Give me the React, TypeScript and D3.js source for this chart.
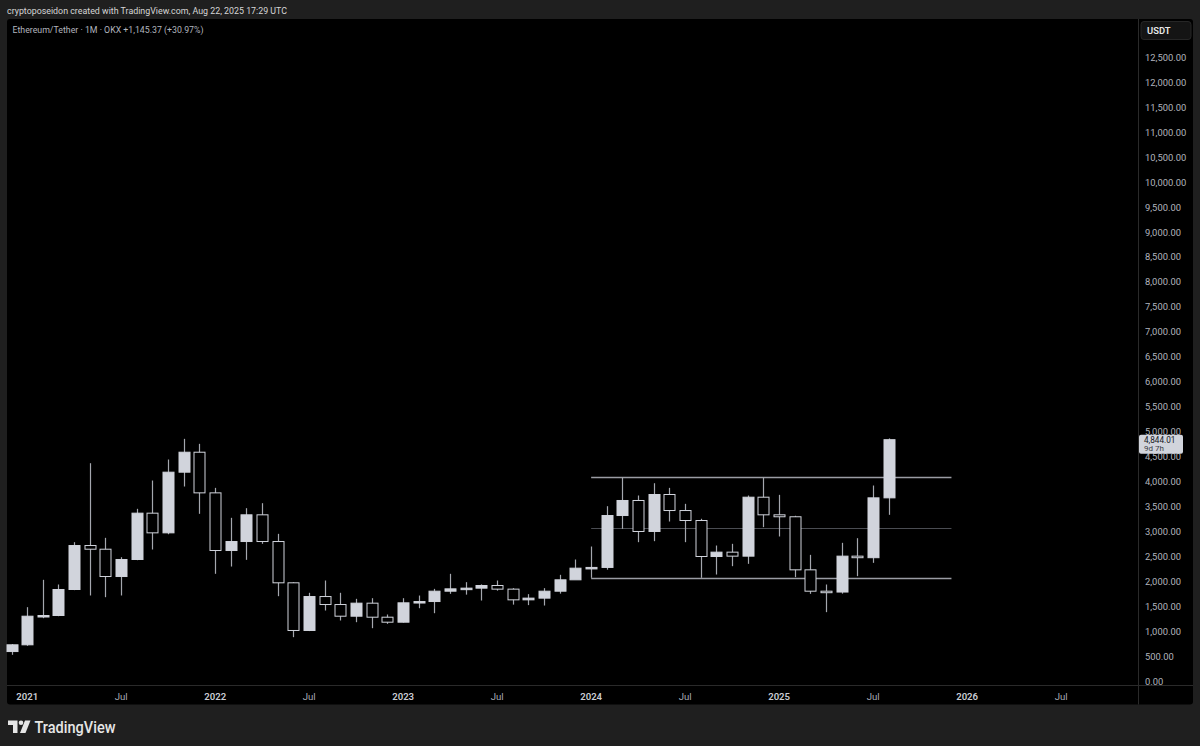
import React, { useEffect, useRef } from 'react';
import * as d3 from 'd3';

// monthly ETH/USDT candles
const months = [
  '2020-12',
  '2021-01', '2021-02', '2021-03', '2021-04', '2021-05', '2021-06', '2021-07', '2021-08', '2021-09', '2021-10', '2021-11', '2021-12',
  '2022-01', '2022-02', '2022-03', '2022-04', '2022-05', '2022-06', '2022-07', '2022-08', '2022-09', '2022-10', '2022-11', '2022-12',
  '2023-01', '2023-02', '2023-03', '2023-04', '2023-05', '2023-06', '2023-07', '2023-08', '2023-09', '2023-10', '2023-11', '2023-12',
  '2024-01', '2024-02', '2024-03', '2024-04', '2024-05', '2024-06', '2024-07', '2024-08', '2024-09', '2024-10', '2024-11', '2024-12',
  '2025-01', '2025-02', '2025-03', '2025-04', '2025-05', '2025-06', '2025-07', '2025-08',
];
const opens = [
  600,
  735, 1308, 1322, 1843, 2724, 2650, 2103, 2444, 3372, 2978, 4193, 4593,
  3779, 2624, 2804, 3339, 2804, 1977, 1022, 1702, 1542, 1308, 1569, 1288,
  1188, 1576, 1602, 1809, 1856, 1870, 1923, 1850, 1636, 1670, 1809, 2037,
  2270, 2285, 3325, 3626, 3005, 3746, 3425, 3225, 2504, 2591, 2511, 3692,
  3339, 3300, 2237, 1809, 1792, 2511, 2480, 3679,
];
const highs = [
  750,
  1489, 2037, 1943, 2791, 4373, 2878, 2490, 3459, 4026, 4447, 4861, 4761,
  3879, 3279, 3472, 3572, 2958, 1990, 1777, 2023, 1777, 1656, 1669, 1342,
  1669, 1722, 1856, 2157, 1990, 1945, 2023, 1870, 1750, 1870, 2137, 2444,
  2704, 3512, 4093, 3726, 3972, 3879, 3559, 3260, 2724, 2758, 3726, 4093,
  3739, 3320, 2537, 1943, 2778, 2871, 3926, 4870,
];
const lows = [
  535,
  715, 1268, 1308, 1830, 1723, 1689, 1723, 2430, 2644, 2950, 3906, 3359,
  2157, 2303, 2437, 2758, 1709, 888, 1010, 1422, 1222, 1188, 1068, 1155,
  1180, 1468, 1368, 1756, 1740, 1622, 1820, 1540, 1530, 1522, 1760, 2120,
  2077, 2240, 3059, 2791, 2811, 3205, 2791, 2077, 2143, 2310, 2357, 3092,
  2905, 2090, 1756, 1389, 1760, 2110, 2377, 3339,
];
const closes = [
  735,
  1308, 1322, 1843, 2724, 2650, 2103, 2444, 3372, 2978, 4193, 4593, 3779,
  2624, 2804, 3339, 2804, 1977, 1022, 1702, 1542, 1308, 1569, 1288, 1188,
  1576, 1602, 1809, 1856, 1870, 1923, 1850, 1636, 1670, 1809, 2037, 2270,
  2285, 3325, 3626, 3005, 3746, 3425, 3225, 2504, 2591, 2511, 3692, 3339,
  3300, 2237, 1809, 1792, 2511, 2480, 3679, 4844.01,
];

// horizontal range levels drawn on the chart
const levelPrices = [4093, 3079, 2077];
const levelStyles = ['strong', 'weak', 'strong'];
const levelFrom = '2024-01';
const levelTo = '2025-12';

const priceTicks = [0, 500, 1000, 1500, 2000, 2500, 3000, 3500, 4000, 4500, 5000, 5500, 6000, 6500,
  7000, 7500, 8000, 8500, 9000, 9500, 10000, 10500, 11000, 11500, 12000, 12500];
const timeTicks = ['2021-01', '2021-07', '2022-01', '2022-07', '2023-01', '2023-07', '2024-01', '2024-07',
  '2025-01', '2025-07', '2026-01', '2026-07'];
const timeTickLabels = ['2021', 'Jul', '2022', 'Jul', '2023', 'Jul', '2024', 'Jul', '2025', 'Jul', '2026', 'Jul'];

const lastPrice = 4844.01;
const countdown = '9d 7h';

const FONT = 'Roboto, "Noto Sans", sans-serif';

function useD3(render: (svg: d3.Selection<SVGSVGElement, unknown, null, undefined>) => void, deps: any[]) {
  const ref = useRef<SVGSVGElement>(null);
  useEffect(() => {
    const svg = d3.select(ref.current as SVGSVGElement);
    svg.selectAll('*').remove();
    render(svg);
  }, deps);
  return ref;
}

export default function App() {
  const ref = useD3((svg) => {
    const W = 1200, H = 746;
    const panel = { x: 7, y: 19, r: 1193, b: 704.5 };
    const axisX = 1138.5;
    const axisY = 685.5;

    svg.attr('width', W).attr('height', H);

    svg.append('rect').attr('width', W).attr('height', H).attr('fill', '#1f1f1f');
    svg.append('rect')
      .attr('x', panel.x).attr('y', panel.y)
      .attr('width', panel.r - panel.x).attr('height', panel.b - panel.y)
      .attr('rx', 3).attr('fill', '#000');

    // header
    svg.append('text')
      .attr('x', 7).attr('y', 14)
      .attr('font-family', FONT).attr('font-size', 9.8)
      .attr('textLength', 280).attr('lengthAdjust', 'spacingAndGlyphs')
      .attr('fill', '#d6d6d6')
      .text('cryptoposeidon created with TradingView.com, Aug 22, 2025 17:29 UTC');

    svg.append('text')
      .attr('x', 12.5).attr('y', 32.5)
      .attr('font-family', FONT).attr('font-size', 9.2)
      .attr('textLength', 191).attr('lengthAdjust', 'spacingAndGlyphs')
      .attr('fill', '#b2b5be')
      .text('Ethereum/Tether · 1M · OKX  +1,145.37 (+30.97%)');

    // scales
    const fmt = d3.timeFormat('%Y-%m');
    const allMonths = d3.timeMonth.range(new Date(2020, 11, 1), new Date(2026, 11, 1)).map(fmt);
    const x = d3.scalePoint<string>()
      .domain(allMonths)
      .range([11.5, 11.5 + (allMonths.length - 1) * 15.666]);
    const y = d3.scaleLinear().domain([0, 12500]).range([681.5, 57.5]);

    // separators
    svg.append('line')
      .attr('x1', panel.x).attr('x2', panel.r).attr('y1', axisY).attr('y2', axisY)
      .attr('stroke', '#2a2a2a');
    svg.append('line')
      .attr('x1', axisX).attr('x2', axisX).attr('y1', panel.y).attr('y2', panel.b)
      .attr('stroke', '#2a2a2a');

    // levels
    levelPrices.forEach((p, i) => {
      const yy = Math.round(y(p)) + 0.5;
      svg.append('line')
        .attr('x1', x(levelFrom) as number).attr('x2', x(levelTo) as number)
        .attr('y1', yy).attr('y2', yy)
        .attr('stroke', levelStyles[i] === 'strong' ? '#9a9ca3' : '#4a4c52')
        .attr('stroke-width', levelStyles[i] === 'strong' ? 1.5 : 1);
    });

    // candles
    const candles = months.map((m, i) => ({ m, o: opens[i], h: highs[i], l: lows[i], c: closes[i] }));
    const bw = 11;
    const g = svg.append('g');
    g.selectAll('line.wick')
      .data(candles)
      .enter()
      .append('line')
      .attr('class', 'wick')
      .attr('x1', (d) => Math.round(x(d.m) as number) + 0.5)
      .attr('x2', (d) => Math.round(x(d.m) as number) + 0.5)
      .attr('y1', (d) => y(d.h))
      .attr('y2', (d) => y(d.l))
      .attr('stroke', '#a4a7ae')
      .attr('stroke-width', 1.2);
    g.selectAll('rect.body')
      .data(candles)
      .enter()
      .append('rect')
      .attr('class', 'body')
      .attr('x', (d) => Math.round(x(d.m) as number) + 0.5 - bw / 2)
      .attr('y', (d) => y(Math.max(d.o, d.c)))
      .attr('width', bw)
      .attr('height', (d) => Math.max(1.5, Math.abs(y(d.o) - y(d.c))))
      .attr('fill', (d) => (d.c >= d.o ? '#d1d4dc' : '#000'))
      .attr('stroke', '#d1d4dc')
      .attr('stroke-width', 1);

    // price axis
    const ly = y(lastPrice);
    svg.append('g').selectAll('text')
      .data(priceTicks)
      .enter()
      .append('text')
      .attr('x', 1145)
      .attr('y', (d) => y(d) + 3.3)
      .attr('font-family', FONT).attr('font-size', 9.4)
      .attr('fill', '#b2b5be')
      .text((d) => d3.format(',.2f')(d));

    // USDT button
    svg.append('rect')
      .attr('x', 1141).attr('y', 21.5).attr('width', 50).attr('height', 18)
      .attr('rx', 3).attr('fill', '#141414').attr('stroke', '#262626');
    svg.append('text')
      .attr('x', 1147).attr('y', 34)
      .attr('font-family', FONT).attr('font-size', 9.4).attr('font-weight', 600)
      .attr('fill', '#e8e8e8')
      .text('USDT');

    // last price tag
    svg.append('rect')
      .attr('x', 1139).attr('y', ly - 5).attr('width', 44).attr('height', 19)
      .attr('rx', 2).attr('fill', '#d1d4dc');
    svg.append('text')
      .attr('x', 1144).attr('y', ly + 3.8)
      .attr('font-family', FONT).attr('font-size', 8.2)
      .attr('fill', '#131722')
      .text(d3.format(',.2f')(lastPrice));
    svg.append('text')
      .attr('x', 1144).attr('y', ly + 11.6)
      .attr('font-family', FONT).attr('font-size', 8)
      .attr('fill', '#3a3d45')
      .text(countdown);

    // time axis
    svg.append('g').selectAll('text')
      .data(timeTicks)
      .enter()
      .append('text')
      .attr('x', (d) => x(d) as number)
      .attr('y', 699.5)
      .attr('text-anchor', 'middle')
      .attr('font-family', FONT).attr('font-size', 9.6)
      .attr('font-weight', (d, i) => (timeTickLabels[i] === 'Jul' ? 400 : 600))
      .attr('fill', (d, i) => (timeTickLabels[i] === 'Jul' ? '#a8abb3' : '#c9ccd3'))
      .text((d, i) => timeTickLabels[i]);

    // TradingView logo
    const logo = svg.append('g').attr('fill', '#e6e6e6');
    logo.append('path').attr('d', 'M8,720.5 H17.5 V733 H13 V725 H8 Z');
    logo.append('circle').attr('cx', 21).attr('cy', 722.8).attr('r', 2.3);
    logo.append('path').attr('d', 'M25,720.5 H30.5 L25.5,733 H20 Z');
    svg.append('text')
      .attr('x', 34.5).attr('y', 732.5)
      .attr('font-family', FONT).attr('font-size', 16).attr('font-weight', 500)
      .attr('textLength', 81).attr('lengthAdjust', 'spacingAndGlyphs')
      .attr('fill', '#e6e6e6')
      .text('TradingView');
  }, []);

  return (
    <svg ref={ref} style={{ position: 'absolute', left: 0, top: 0, display: 'block' }}></svg>
  );
}
